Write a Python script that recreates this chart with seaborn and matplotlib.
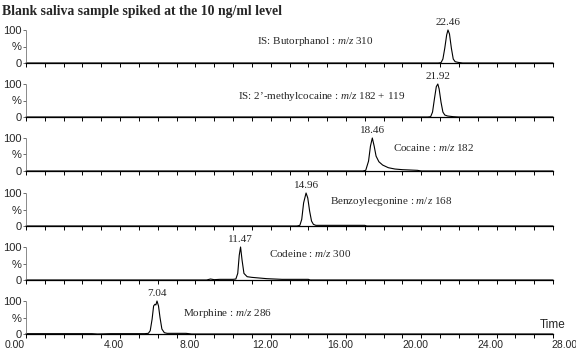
import matplotlib
matplotlib.use("Agg")
import matplotlib.pyplot as plt
import matplotlib.transforms as mtransforms
import seaborn as sns
import pandas as pd
from matplotlib.ticker import MultipleLocator

sns.set_style("white")
plt.rcParams['font.family'] = ['Liberation Sans', 'DejaVu Sans']
plt.rcParams['mathtext.fontset'] = 'custom'
plt.rcParams['mathtext.rm'] = 'Liberation Serif'
plt.rcParams['mathtext.it'] = 'Liberation Serif:italic'

# ---------------- data ----------------
title = "Blank saliva sample spiked at the 10 ng/ml level"
compounds = ["IS: Butorphanol : $\\mathit{m/z}$ 310",
             "IS: 2\u2019-methylcocaine : $\\mathit{m/z}$ 182 + 119",
             "Cocaine : $\\mathit{m/z}$ 182",
             "Benzoylecgonine : $\\mathit{m/z}$ 168",
             "Codeine : $\\mathit{m/z}$ 300",
             "Morphine : $\\mathit{m/z}$ 286"]
retention = [22.46, 21.92, 18.46, 14.96, 11.47, 7.04]

t_butorphanol = [0, 21.9, 22.05, 22.15, 22.25, 22.35, 22.42, 22.5, 22.6, 22.7, 22.8, 22.95, 23.2, 28]
i_butorphanol = [0, 0, 1, 12, 45, 85, 100, 88, 45, 12, 4, 2, 0, 0]

t_methylcocaine = [0, 21.35, 21.5, 21.6, 21.7, 21.8, 21.88, 21.95, 22.05, 22.15, 22.25, 22.4, 22.7, 23.0, 28]
i_methylcocaine = [0, 0, 1, 15, 55, 92, 100, 85, 45, 15, 6, 3, 1, 0, 0]

t_cocaine = [0, 17.9, 18.05, 18.2, 18.3, 18.4, 18.5, 18.6, 18.75, 18.95, 19.25, 19.6, 20.0, 20.4, 20.8, 21.0, 28]
i_cocaine = [0, 0, 2, 30, 75, 100, 75, 45, 28, 18, 10, 6, 4, 3, 2, 0, 0]

t_benzoylecgonine = [0, 14.4, 14.55, 14.65, 14.75, 14.88, 14.97, 15.07, 15.17, 15.27, 15.4, 16.0, 17.0, 18.0, 18.1, 28]
i_benzoylecgonine = [0, 0, 2, 20, 70, 100, 85, 45, 15, 5, 2, 2, 2, 2, 0, 0]

t_codeine = [0, 9.6, 9.8, 10.0, 10.3, 11.0, 11.15, 11.25, 11.33, 11.4, 11.48, 11.58, 11.75, 12.0, 12.4, 12.8, 13.2, 13.6, 14.5, 15.0, 15.1, 28]
i_codeine = [0, 0, 3, 1, 2, 2, 3, 20, 75, 100, 60, 20, 10, 8, 6, 4, 3, 2, 2, 2, 0, 0]

t_morphine = [0, 3.5, 3.8, 4.5, 5.5, 6.3, 6.5, 6.6, 6.7, 6.78, 6.85, 6.9, 6.96, 7.04, 7.12, 7.22, 7.35, 7.5, 7.8, 8.5, 8.8, 28]
i_morphine = [1, 1, 0, 1, 1, 1, 2, 10, 45, 85, 90, 88, 100, 85, 50, 15, 4, 2, 2, 2, 0, 0]

traces = [(t_butorphanol, i_butorphanol), (t_methylcocaine, i_methylcocaine),
          (t_cocaine, i_cocaine), (t_benzoylecgonine, i_benzoylecgonine),
          (t_codeine, i_codeine), (t_morphine, i_morphine)]

x_ticks = [0, 4, 8, 12, 16, 20, 24, 28]
x_ticklabels = ["0.00", "4.00", "8.00", "12.00", "16.00", "20.00", "24.00", "28.00"]

# ---------------- layout ----------------
W, H = 576, 361
x0_px, x1_px = 26, 553
baselines = [63, 117, 171, 226, 280, 334]
panel_h = 33
label_pos = [(12.27, 64), (11.26, 61), (19.5, 70), (16.15, 73), (12.9, 79), (8.34, 61)]
label_shift_px = [-11, 13, 13, 13, 13, 13, 13, 11]

fig = plt.figure(figsize=(W / 100, H / 100), dpi=100)

for k, ((tt, ii), base) in enumerate(zip(traces, baselines)):
    ax = fig.add_axes([x0_px / W, 1 - base / H, (x1_px - x0_px) / W, panel_h / H])
    ax.set_facecolor('none')
    df = pd.DataFrame({"time": tt, "intensity": ii})
    sns.lineplot(data=df, x="time", y="intensity", ax=ax, color="black",
                 linewidth=0.8, sort=False, estimator=None)
    for ln in ax.lines:
        ln.set_clip_on(False)
    ax.set_xlim(0, 28)
    ax.set_ylim(0, 100)
    ax.set_xlabel("")
    ax.set_ylabel("")
    for s in ["top", "right"]:
        ax.spines[s].set_visible(False)
    ax.spines["bottom"].set_color("black")
    ax.spines["bottom"].set_linewidth(0.9)
    ax.spines["left"].set_color("#777777")
    ax.spines["left"].set_linewidth(0.6)
    ax.spines["left"].set_linestyle((0, (1, 1)))
    ax.set_xticks(x_ticks)
    ax.xaxis.set_minor_locator(MultipleLocator(1))
    ax.tick_params(axis="x", which="both", direction="out", length=3, width=0.7,
                   color="black", bottom=True, pad=1)
    if k == len(traces) - 1:
        ax.set_xticklabels(x_ticklabels, fontsize=7.5)
        for lab, dx in zip(ax.get_xticklabels(), label_shift_px):
            lab.set_transform(lab.get_transform() +
                              mtransforms.ScaledTranslation(dx / 100, 0, fig.dpi_scale_trans))
    else:
        ax.set_xticklabels([])
    ax.set_yticks([0, 50, 100])
    ax.set_yticklabels(["0", "%", "100"], fontsize=8)
    ax.tick_params(axis="y", which="both", length=2, width=0.6, left=True, pad=1,
                   color="#555555")
    # peak label
    ax.annotate(f"{retention[k]:.2f}", xy=(tt[ii.index(max(ii))], 100),
                xytext=(0, 2), textcoords="offset points", ha="center", va="bottom",
                fontsize=8, family="Liberation Serif", annotation_clip=False)
    lx, ly = label_pos[k]
    ax.text(lx, ly, compounds[k], fontsize=8, family="Liberation Serif",
            ha="left", va="center")

fig.text(2 / W, 1 - 11 / H, title, fontsize=9.9, fontweight="bold",
         family="Liberation Serif", ha="left", va="center")
fig.text(553 / W, 1 - 325 / H, "Time", fontsize=8.5, ha="center", va="center")

fig.savefig("out.png", dpi=100)
